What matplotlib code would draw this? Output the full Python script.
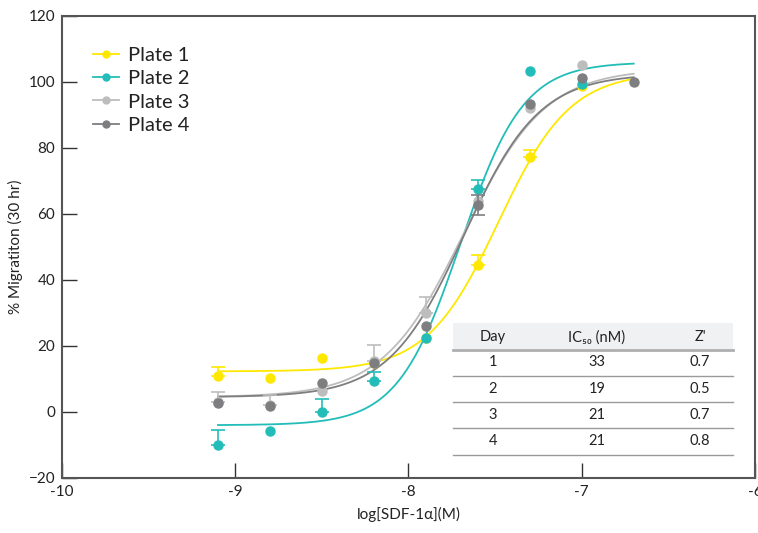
import matplotlib.pyplot as plt
from matplotlib.lines import Line2D
import numpy as np

plt.rcParams['font.family'] = ['Lato', 'DejaVu Sans']

# log[SDF-1a] concentrations
logConc = [-9.1, -8.8, -8.5, -8.2, -7.9, -7.6, -7.3, -7.0, -6.7]

plateNames = ["Plate 1", "Plate 2", "Plate 3", "Plate 4"]
plateColors = ["#FFE800", "#22BDB8", "#BDBDBD", "#7E7E80"]

# % migration (None = no point)
plate1 = [10.9, 10.3, 16.4, 14.8, 22.4, 44.5, 77.3, 98.8, None]
plate2 = [-10.0, -5.8, 0.0, 9.4, 22.4, 67.6, 103.3, 99.4, None]
plate3 = [3.0, 2.0, 6.4, 15.5, 30.0, 64.0, 92.0, 105.2, None]
plate4 = [2.7, 1.8, 8.8, 14.8, 26.0, 62.7, 93.3, 101.2, 100.0]

# upper error bars
err1 = [2.7, 0, 0, 0, 0, 3.0, 2.1, 0, 0]
err2 = [4.5, 0, 4.0, 2.6, 0, 2.7, 0, 0, 0]
err3 = [3.0, 3.0, 0, 4.8, 4.8, 0, 0, 0, 0]
err4 = [0, 0, 0, 0, 0, 3.0, 0, 0, 0]
err4low = [0, 0, 0, 0, 0, 3.0, 0, 0, 0]

# 4PL fit parameters: bottom, top, logIC50, hill
fit1 = [12.3, 103.0, -7.48, 2.1]
fit2 = [-4.0, 106.0, -7.70, 2.4]
fit3 = [4.5, 104.0, -7.68, 1.85]
fit4 = [4.5, 102.5, -7.68, 2.0]

# table
tableHeader = ["Day", "IC\u2085\u2080 (nM)", "Z'"]
tableDays = ["1", "2", "3", "4"]
tableIC50 = ["33", "19", "21", "21"]
tableZ = ["0.7", "0.5", "0.7", "0.8"]

allData = [plate1, plate2, plate3, plate4]
allErr = [err1, err2, err3, err4]
allFits = [fit1, fit2, fit3, fit4]

fig = plt.figure(figsize=(7.58, 5.33), dpi=100)
ax = fig.add_axes([0.0818, 0.1032, 0.9142, 0.8668])

xFit = np.linspace(-9.1, -6.7, 300)
for i in range(0, 4):
    bottom, top, logIC50, hill = allFits[i]
    yFit = bottom + (top - bottom) / (1 + 10 ** ((logIC50 - xFit) * hill))
    ax.plot(xFit, yFit, color=plateColors[i], lw=1.3, zorder=2)

for i in range(0, 4):
    xs = []
    ys = []
    ex = []
    ey = []
    lo = []
    hi = []
    for j in range(0, len(logConc)):
        if allData[i][j] is None:
            continue
        xs.append(logConc[j])
        ys.append(allData[i][j])
        low = err4low[j] if i == 3 else 0
        if allErr[i][j] > 0 or low > 0:
            ex.append(logConc[j])
            ey.append(allData[i][j])
            hi.append(allErr[i][j])
            lo.append(low)
    if len(ex) > 0:
        ax.errorbar(ex, ey, yerr=[lo, hi], fmt='none', ecolor=plateColors[i],
                    elinewidth=1.2, capsize=5, capthick=1.2, zorder=3 + i)
    ax.plot(xs, ys, 'o', color=plateColors[i], markersize=6.5, zorder=3 + i)

ax.set_xlim(-10, -6)
ax.set_ylim(-20, 120)
ax.set_xticks([-10, -9, -8, -7, -6])
ax.set_xticklabels(["-10", "-9", "-8", "-7", "-6"])
ax.set_yticks([-20, 0, 20, 40, 60, 80, 100, 120])
ax.tick_params(direction='in', length=11, width=1, color='#333333',
               labelsize=11, labelcolor='#222222', pad=5)
for s in ax.spines.values():
    s.set_color('#555555')
    s.set_linewidth(1.5)

ax.set_xlabel("log[SDF-1α](M)", fontsize=11, color='#222222', labelpad=6)
ax.set_ylabel("% Migratiton (30 hr)", fontsize=11, color='#222222', labelpad=4)

handles = []
for i in range(0, 4):
    handles.append(Line2D([0], [0], color=plateColors[i], lw=1.3, marker='o',
                          markersize=5))
ax.legend(handles, plateNames, loc='upper left', bbox_to_anchor=(0.033, 0.95),
          frameon=False, fontsize=14.5, handlelength=1.3, handletextpad=0.45,
          labelspacing=0.3, labelcolor='#222222', borderaxespad=0)

# table inside the axes
tx0, tx1 = 0.564, 0.968
colX = [0.622, 0.772, 0.921]
ax.fill_between([tx0, tx1], 0.277, 0.335, transform=ax.transAxes,
                color='#F0F1F3', lw=0, zorder=1)
ax.plot([tx0, tx1], [0.277, 0.277], transform=ax.transAxes, color='#AFAFAF',
        lw=2, zorder=1)
for yl in [0.221, 0.165, 0.108, 0.050]:
    ax.plot([tx0, tx1], [yl, yl], transform=ax.transAxes, color='#9A9A9A',
            lw=1, zorder=1)
for k in range(0, 3):
    ax.text(colX[k], 0.305, tableHeader[k], transform=ax.transAxes,
            ha='center', va='center', fontsize=10.5, color='#222222')
rowY = [0.251, 0.193, 0.136, 0.080]
for r in range(0, 4):
    ax.text(colX[0], rowY[r], tableDays[r], transform=ax.transAxes,
            ha='center', va='center', fontsize=10.5, color='#222222')
    ax.text(colX[1], rowY[r], tableIC50[r], transform=ax.transAxes,
            ha='center', va='center', fontsize=10.5, color='#222222')
    ax.text(colX[2], rowY[r], tableZ[r], transform=ax.transAxes,
            ha='center', va='center', fontsize=10.5, color='#222222')

plt.savefig("out.png", dpi=100)
